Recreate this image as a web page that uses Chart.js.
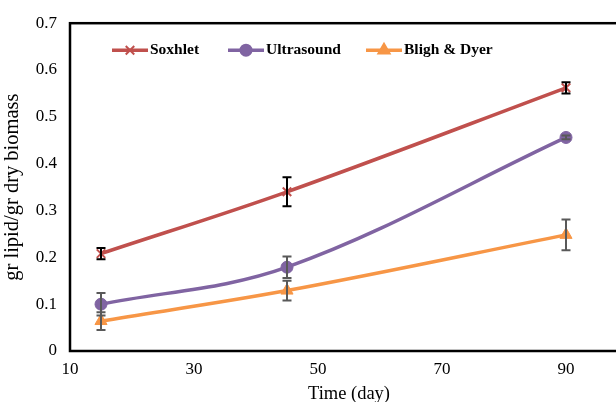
<!DOCTYPE html>
<html><head><meta charset="utf-8">
<script src="https://cdn.jsdelivr.net/npm/chart.js@4/dist/chart.umd.min.js"></script>
<style>
html,body{margin:0;padding:0;background:#fff;overflow:hidden;}
#wrap{width:616px;height:402px;overflow:hidden;position:relative;}
#c{position:absolute;left:0;top:0;}
</style></head>
<body><div id="wrap"><canvas id="c" width="640" height="402"></canvas></div>
<script>
const days = [15, 45, 90];
const soxhlet = [0.208, 0.340, 0.562];
const soxhletErr = [0.012, 0.031, 0.012];
const ultrasound = [0.100, 0.179, 0.456];
const ultrasoundErr = [0.024, 0.023, 0.004];
const bligh = [0.064, 0.129, 0.248];
const blighErr = [0.019, 0.021, 0.033];
const xTicks = [10, 30, 50, 70, 90];
const yTicks = [0, 0.1, 0.2, 0.3, 0.4, 0.5, 0.6, 0.7];
const seriesNames = ['Soxhlet', 'Ultrasound', 'Bligh & Dyer'];

const colors = ['#C0504D', '#8064A2', '#F79646'];
const errColors = ['#000000', '#595959', '#595959'];
const pts = (ys) => days.map((d, i) => ({x: d, y: ys[i]}));
const errs = [soxhletErr, ultrasoundErr, blighErr];

const serif = "'Liberation Serif', 'DejaVu Serif', serif";

const errorBars = {
  id: 'errorBars',
  afterDatasetsDraw(chart) {
    const ctx = chart.ctx, xs = chart.scales.x, ys = chart.scales.y;
    chart.data.datasets.forEach((ds, di) => {
      ctx.save();
      ctx.strokeStyle = errColors[di];
      ctx.lineWidth = 2;
      ds.data.forEach((p, i) => {
        const e = errs[di][i];
        const px = xs.getPixelForValue(p.x);
        const y1 = ys.getPixelForValue(p.y + e), y2 = ys.getPixelForValue(p.y - e);
        ctx.beginPath();
        ctx.moveTo(px, y1); ctx.lineTo(px, y2);
        ctx.moveTo(px - 4.5, y1); ctx.lineTo(px + 4.5, y1);
        ctx.moveTo(px - 4.5, y2); ctx.lineTo(px + 4.5, y2);
        ctx.stroke();
      });
      ctx.restore();
    });
  }
};

const frame = {
  id: 'frame',
  afterDraw(chart) {
    const a = chart.chartArea, ctx = chart.ctx;
    ctx.save();
    ctx.strokeStyle = '#000';
    ctx.lineWidth = 2.5;
    ctx.strokeRect(a.left, a.top, a.right - a.left, a.bottom - a.top);
    ctx.restore();
  }
};

const legendPlugin = {
  id: 'customLegend',
  afterDraw(chart) {
    const a = chart.chartArea, ctx = chart.ctx;
    const y = a.top + 27;
    const starts = [a.left + 42, a.left + 158, a.left + 296];
    const styles = ['crossRot', 'circle', 'triangle'];
    const radii = [6, 5.5, 6.5];
    chart.data.datasets.forEach((ds, i) => {
      const x0 = starts[i];
      ctx.save();
      ctx.strokeStyle = colors[i];
      ctx.lineWidth = 3.5;
      ctx.beginPath(); ctx.moveTo(x0, y); ctx.lineTo(x0 + 36, y); ctx.stroke();
      ctx.fillStyle = colors[i];
      ctx.lineWidth = 2;
      Chart.helpers.drawPoint(ctx, {pointStyle: styles[i], radius: radii[i], borderWidth: 2, rotation: 0}, x0 + 18, y);
      ctx.fillStyle = '#000';
      ctx.font = "bold 15.5px " + serif;
      ctx.textBaseline = 'middle';
      ctx.fillText(seriesNames[i], x0 + 38, y);
      ctx.restore();
    });
  }
};

new Chart(document.getElementById('c'), {
  type: 'line',
  data: {
    datasets: [
      {label: seriesNames[0], data: pts(soxhlet), borderColor: colors[0], backgroundColor: colors[0],
       pointStyle: 'crossRot', pointRadius: 6, pointBorderWidth: 2},
      {label: seriesNames[1], data: pts(ultrasound), borderColor: colors[1], backgroundColor: colors[1],
       pointStyle: 'circle', pointRadius: 6, pointBorderWidth: 1},
      {label: seriesNames[2], data: pts(bligh), borderColor: colors[2], backgroundColor: colors[2],
       pointStyle: 'triangle', pointRadius: 7, pointBorderWidth: 1}
    ].map(d => Object.assign(d, {borderWidth: 3.5, tension: 0.35, cubicInterpolationMode: 'default', fill: false}))
  },
  options: {
    responsive: false,
    animation: false,
    devicePixelRatio: 1,
    layout: {padding: {left: 0, right: 12, top: 21, bottom: 0}},
    plugins: {legend: {display: false}, tooltip: {enabled: false}},
    scales: {
      x: {
        type: 'linear', min: 10, max: 100,
        afterBuildTicks: (s) => { s.ticks = xTicks.map(v => ({value: v})); },
        afterFit: (s) => { s.height = 51; },
        grid: {display: false, drawTicks: false},
        border: {display: false},
        ticks: {color: '#000', font: {family: serif, size: 17}, padding: 8, maxRotation: 0},
        title: {display: true, text: 'Time (day)', color: '#000', font: {family: serif, size: 18.5}, padding: {top: 6, bottom: -3}}
      },
      y: {
        min: 0, max: 0.7,
        afterBuildTicks: (s) => { s.ticks = yTicks.map(v => ({value: v})); },
        afterFit: (s) => { s.width = 70; },
        grid: {display: false, drawTicks: false},
        border: {display: false},
        ticks: {color: '#000', font: {family: serif, size: 17}, padding: 13,
                callback: (v) => (v === 0 ? '0' : v.toFixed(1))},
        title: {display: true, text: 'gr lipid/gr dry biomass', color: '#000', font: {family: serif, size: 20.5}, padding: {top: 0, bottom: 4}}
      }
    }
  },
  plugins: [errorBars, frame, legendPlugin]
});
</script></body></html>
